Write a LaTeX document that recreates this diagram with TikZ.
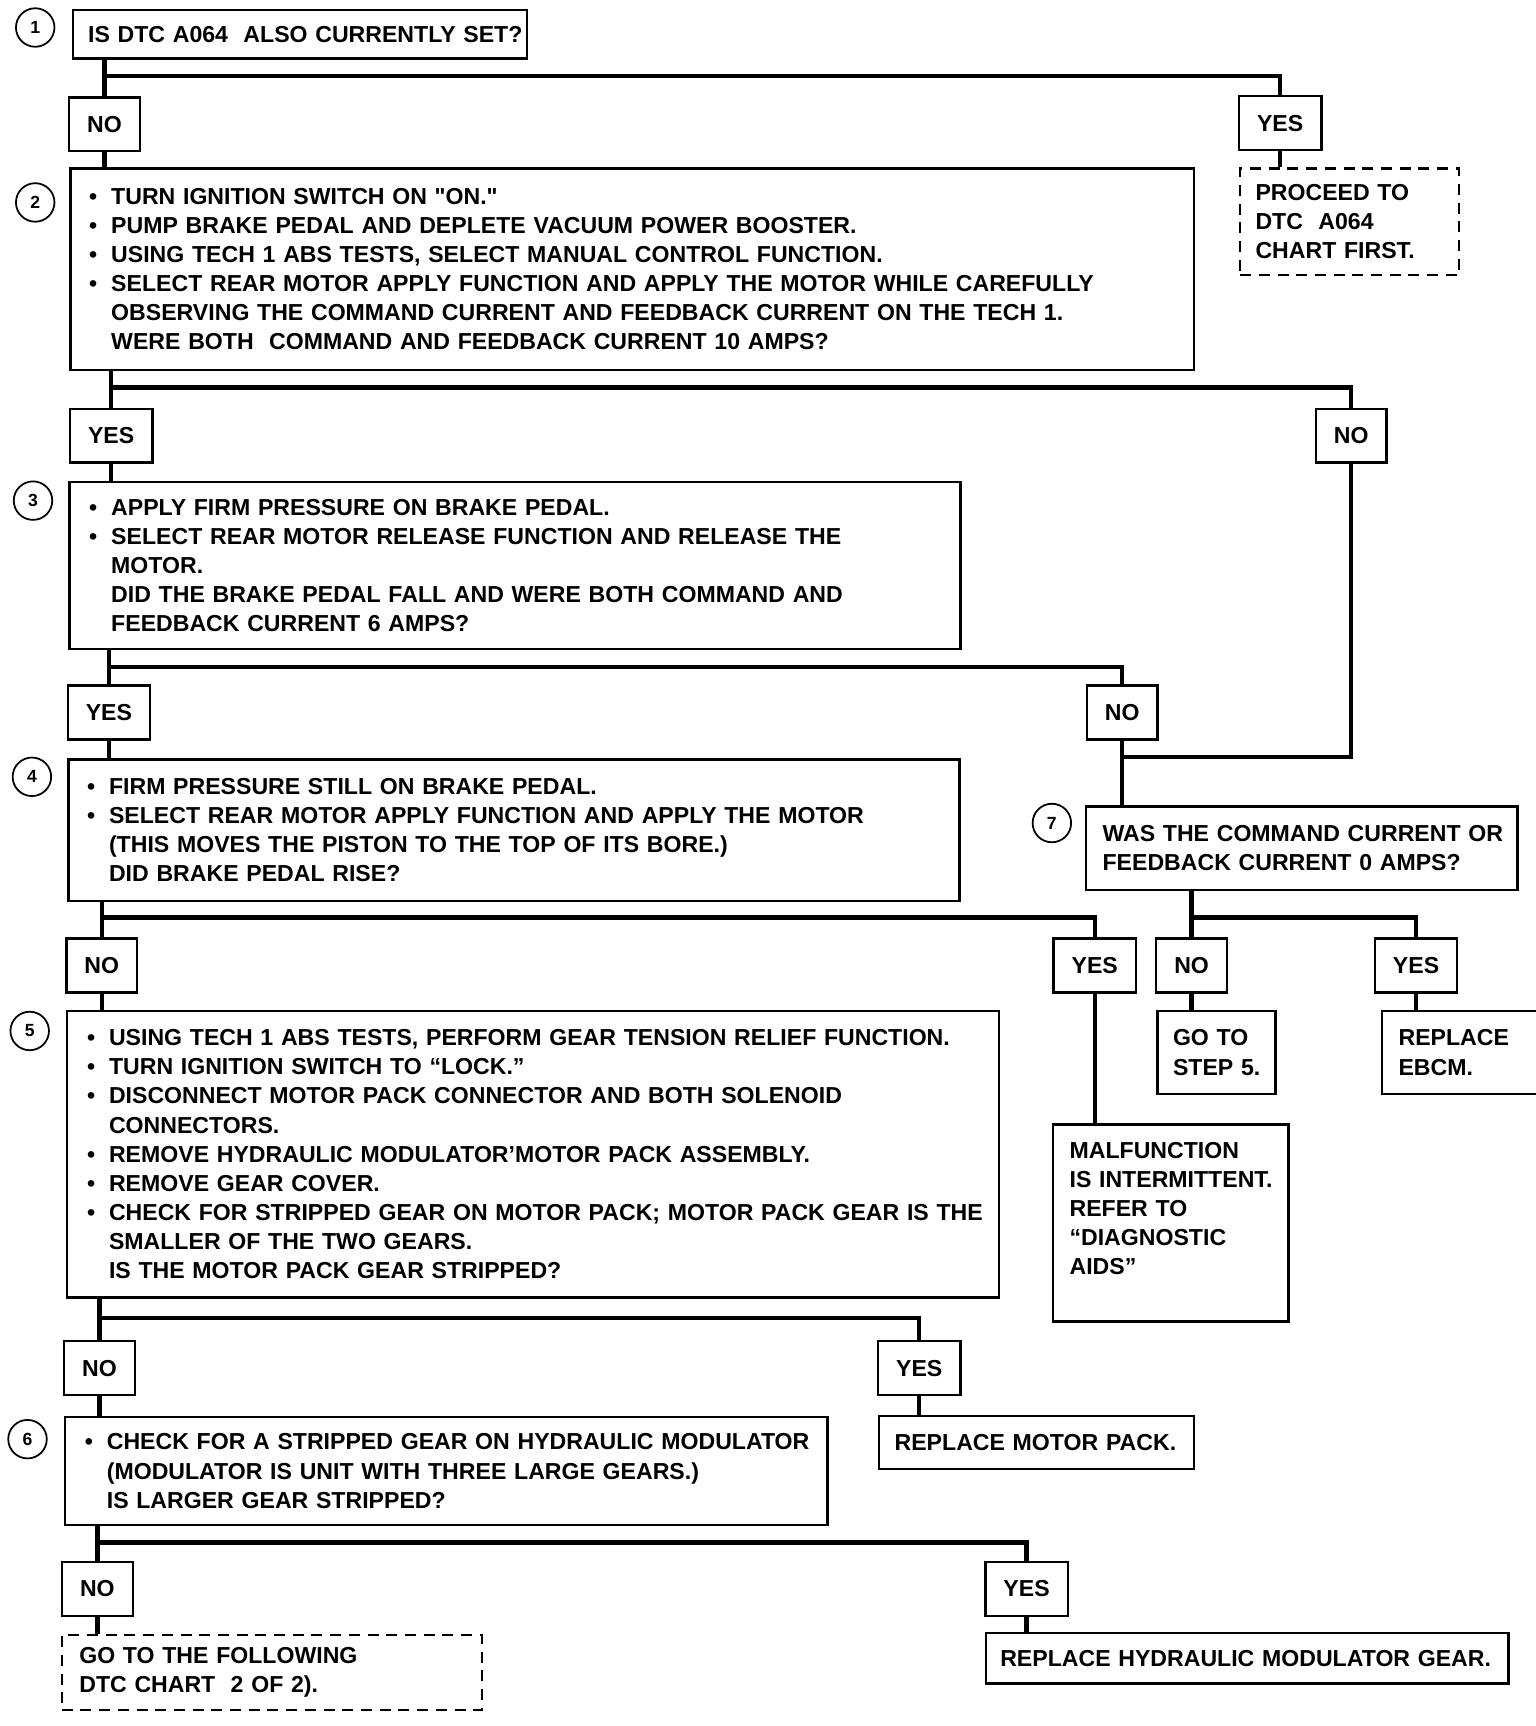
\documentclass[tikz,border=0pt]{standalone}
\usepackage{fontspec}
\setmainfont{Liberation Sans}
\newcommand\itm[1]{\mbox{\makebox[10pt][l]{\textbullet}#1}}
\newcommand\cnt[1]{\mbox{\hspace*{10pt}#1}}

\begin{document}
\begin{tikzpicture}[x=0.5pt,y=-0.5pt,
	every node/.style={font=\fontsize{10.5}{13.25}\selectfont\bfseries},
	box/.style={draw,line width=1.1pt,anchor=north west,align=left},
	dashbox/.style={box,dash pattern=on 5pt off 3.5pt},
	ans/.style={draw,line width=1.1pt,inner xsep=8.2pt,inner ysep=0pt,minimum height=24.5pt},
	stepnum/.style={draw,circle,line width=0.8pt,inner sep=0pt,minimum size=17.5pt,font=\fontsize{8}{9}\selectfont\bfseries},
	wire/.style={line width=2pt}]
	\useasboundingbox (0,0) rectangle (1396,1568.7);
	\node[stepnum] (n1) at (32,25) {1};
	\node[stepnum] (n2) at (32,184) {2};
	\node[stepnum] (n3) at (30,455) {3};
	\node[stepnum] (n4) at (29,706) {4};
	\node[stepnum] (n5) at (27,937) {5};
	\node[stepnum] (n6) at (25,1308) {6};
	\node[stepnum] (n7) at (956,748) {7};
	\node[box,inner xsep=7pt,text width=192.5pt,minimum height=22pt] (b1) at (65,8) {\mbox{IS DTC A064\ \ ALSO CURRENTLY SET?}};
	\node[box,inner xsep=8.5pt,text width=493.5pt,minimum height=91.5pt] (b2) at (63,152) {\itm{TURN IGNITION SWITCH ON \textquotedbl ON.\textquotedbl}\\
		\itm{PUMP BRAKE PEDAL AND DEPLETE VACUUM POWER BOOSTER.}\\
		\itm{USING TECH 1 ABS TESTS, SELECT MANUAL CONTROL FUNCTION.}\\
		\itm{SELECT REAR MOTOR APPLY FUNCTION AND APPLY THE MOTOR WHILE CAREFULLY}\\
		\cnt{OBSERVING THE COMMAND CURRENT AND FEEDBACK CURRENT ON THE TECH 1.}\\
		\cnt{WERE BOTH\ \ COMMAND AND FEEDBACK CURRENT 10 AMPS?}};
	\node[box,inner xsep=9pt,text width=387pt,minimum height=76pt] (b3) at (62,437) {\itm{APPLY FIRM PRESSURE ON BRAKE PEDAL.}\\
		\itm{SELECT REAR MOTOR RELEASE FUNCTION AND RELEASE THE}\\
		\cnt{MOTOR.}\\
		\cnt{DID THE BRAKE PEDAL FALL AND WERE BOTH COMMAND AND}\\
		\cnt{FEEDBACK CURRENT 6 AMPS?}};
	\node[box,inner xsep=8.5pt,text width=388pt,minimum height=64.5pt] (b4) at (61,689) {\itm{FIRM PRESSURE STILL ON BRAKE PEDAL.}\\
		\itm{SELECT REAR MOTOR APPLY FUNCTION AND APPLY THE MOTOR}\\
		\cnt{(THIS MOVES THE PISTON TO THE TOP OF ITS BORE.)}\\
		\cnt{DID BRAKE PEDAL RISE?}};
	\node[box,inner xsep=9pt,text width=405.5pt,minimum height=130pt] (b5) at (60,918) {\itm{USING TECH 1 ABS TESTS, PERFORM GEAR TENSION RELIEF FUNCTION.}\\
		\itm{TURN IGNITION SWITCH TO ``LOCK.''}\\
		\itm{DISCONNECT MOTOR PACK CONNECTOR AND BOTH SOLENOID}\\
		\cnt{CONNECTORS.}\\
		\itm{REMOVE HYDRAULIC MODULATOR'MOTOR PACK ASSEMBLY.}\\
		\itm{REMOVE GEAR COVER.}\\
		\itm{CHECK FOR STRIPPED GEAR ON MOTOR PACK; MOTOR PACK GEAR IS THE}\\
		\cnt{SMALLER OF THE TWO GEARS.}\\
		\cnt{IS THE MOTOR PACK GEAR STRIPPED?}};
	\node[box,inner xsep=9pt,text width=328.5pt,minimum height=49pt] (b6) at (58,1287) {\itm{CHECK FOR A STRIPPED GEAR ON HYDRAULIC MODULATOR}\\
		\cnt{(MODULATOR IS UNIT WITH THREE LARGE GEARS.)}\\
		\cnt{IS LARGER GEAR STRIPPED?}};
	\node[box,inner xsep=7.5pt,text width=181pt,minimum height=38pt] (b7) at (986,732) {\mbox{WAS THE COMMAND CURRENT OR}\\
		\mbox{FEEDBACK CURRENT 0 AMPS?}};
	\node[dashbox,inner xsep=7pt,text width=85.5pt,minimum height=48.5pt] (d1) at (1126,152) {PROCEED TO\\ DTC\ \ A064\\ CHART FIRST.};
	\node[box,inner xsep=7pt,text width=39.5pt,minimum height=37.5pt] (g5) at (1051,918) {\mbox{GO TO}\\ \mbox{STEP 5.}};
	\node[box,inner xsep=7.5pt,text width=60pt,minimum height=37.5pt] (eb) at (1255,918) {REPLACE\\ EBCM.};
	\node[box,inner xsep=7.5pt,text width=92pt,minimum height=89.5pt] (mf) at (956,1021) {\mbox{MALFUNCTION}\\
		\mbox{IS INTERMITTENT.}\\ REFER TO\\ \mbox{``DIAGNOSTIC}\\ AIDS''\\ \mbox{}};
	\node[box,inner xsep=7pt,text width=129pt,minimum height=24pt] (rm) at (798,1286) {\mbox{REPLACE MOTOR PACK.}};
	\node[box,inner xsep=6.5pt,text width=224.5pt,minimum height=23pt] (rh) at (895,1483) {\mbox{REPLACE HYDRAULIC MODULATOR GEAR.}};
	\node[dashbox,inner xsep=8pt,text width=175pt,minimum height=34pt] (d2) at (55,1485) {GO TO THE FOLLOWING\\ DTC CHART\ \ 2 OF 2).};
	\node[ans] (no1) at (95,113) {NO};
	\node[ans] (yes1) at (1163.5,112) {YES};
	\node[ans] (yes2) at (101,396) {YES};
	\node[ans] (no2) at (1228,396) {NO};
	\node[ans] (yes3) at (99,647.5) {YES};
	\node[ans] (no3) at (1020,647.5) {NO};
	\node[ans] (no4) at (92.5,877.5) {NO};
	\node[ans] (yes4) at (995,877.5) {YES};
	\node[ans] (no7) at (1083,877.5) {NO};
	\node[ans] (yes7) at (1287,877.5) {YES};
	\node[ans] (no5) at (90.5,1243.5) {NO};
	\node[ans] (yes5) at (835.5,1243.5) {YES};
	\node[ans] (no6) at (88.5,1444) {NO};
	\node[ans] (yes6) at (933,1444) {YES};
	\coordinate (s1) at (0,69);
	\coordinate (s2) at (0,352);
	\coordinate (s3) at (0,606);
	\coordinate (s4) at (0,834);
	\coordinate (s5) at (0,1198);
	\coordinate (s6) at (0,1402);
	\coordinate (m7) at (0,688);
	\draw[wire] (b1.south -| no1) -- (no1.north);
	\draw[wire] (no1.north |- s1) -| (yes1.north);
	\draw[wire] (no1.south) -- (no1.south |- b2.north);
	\draw[wire] (yes1.south) -- (yes1.south |- d1.north);
	\draw[wire] (b2.south -| yes2) -- (yes2.north);
	\draw[wire] (yes2.north |- s2) -| (no2.north);
	\draw[wire] (yes2.south) -- (yes2.south |- b3.north);
	\draw[wire] (no2.south) |- (no3.south |- m7);
	\draw[wire] (b3.south -| yes3) -- (yes3.north);
	\draw[wire] (yes3.north |- s3) -| (no3.north);
	\draw[wire] (yes3.south) -- (yes3.south |- b4.north);
	\draw[wire] (no3.south) -- (no3.south |- b7.north);
	\draw[wire] (b4.south -| no4) -- (no4.north);
	\draw[wire] (no4.north |- s4) -| (yes4.north);
	\draw[wire] (no4.south) -- (no4.south |- b5.north);
	\draw[wire] (yes4.south) -- (yes4.south |- mf.north);
	\draw[wire] (b7.south -| no7) -- (no7.north);
	\draw[wire] (no7.north |- s4) -| (yes7.north);
	\draw[wire] (no7.south) -- (no7.south |- g5.north);
	\draw[wire] (yes7.south) -- (yes7.south |- eb.north);
	\draw[wire] (b5.south -| no5) -- (no5.north);
	\draw[wire] (no5.north |- s5) -| (yes5.north);
	\draw[wire] (no5.south) -- (no5.south |- b6.north);
	\draw[wire] (yes5.south) -- (yes5.south |- rm.north);
	\draw[wire] (b6.south -| no6) -- (no6.north);
	\draw[wire] (no6.north |- s6) -| (yes6.north);
	\draw[wire] (no6.south) -- (no6.south |- d2.north);
	\draw[wire] (yes6.south) -- (yes6.south |- rh.north);
\end{tikzpicture}
\end{document}
